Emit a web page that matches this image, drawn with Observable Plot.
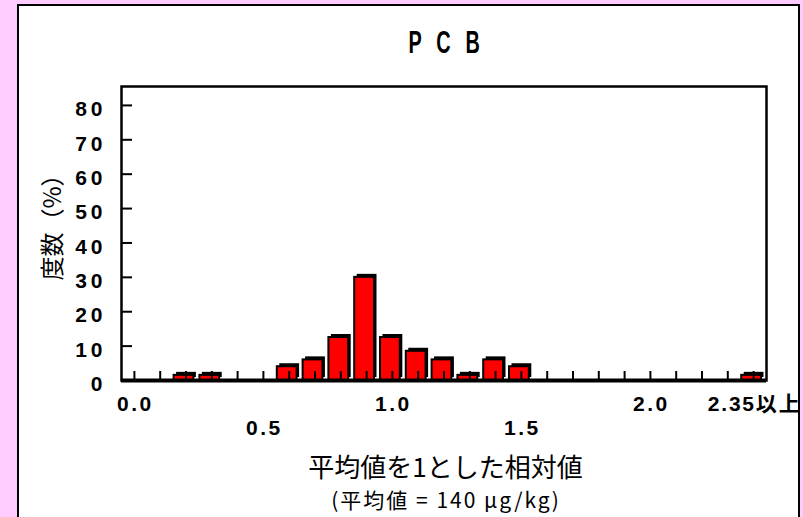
<!DOCTYPE html>
<html>
<head>
<meta charset="utf-8">
<script src="https://cdn.jsdelivr.net/npm/d3@7"></script>
<script src="https://cdn.jsdelivr.net/npm/@observablehq/plot@0.6"></script>
<style>
  html, body { margin: 0; padding: 0; }
  body { width: 803px; height: 517px; background: #ffccff; overflow: hidden; position: relative; }
  #panel { position: absolute; left: 17px; top: 4px; width: 779px; height: 520px;
           border: 2px solid #000; border-bottom: none; background: #fff; overflow: hidden; }
  #panel svg { position: absolute; left: 0; top: 0; }
</style>
</head>
<body>
<div id="panel"></div>
<script>
// ---- data ----
const bins = [0.0, 0.1, 0.2, 0.3, 0.4, 0.5, 0.6, 0.7, 0.8, 0.9, 1.0, 1.1, 1.2,
              1.3, 1.4, 1.5, 1.6, 1.7, 1.8, 1.9, 2.0, 2.1, 2.2, 2.3, 2.4];
const freq = [0, 0, 1.5, 1.5, 0, 0, 4, 6, 12.5, 30, 12.5, 8.5, 6,
              1.5, 6, 4, 0, 0, 0, 0, 0, 0, 0, 0, 1.5];
const yTicks = [0, 10, 20, 30, 40, 50, 60, 70, 80];
const xRow1Vals = [0.0, 1.0, 2.0, 2.4];
const xRow1Text = ["0.0", "1.0", "2.0", "2.35以上"];
const xRow2Vals = [0.5, 1.5];
const xRow2Text = ["0.5", "1.5"];
const titleText = "P C B";
const xTitle = "平均値を1とした相対値";
const xSubtitle = "(平均値 = 140 μg/kg)";
const yTitle = "度数（%）";

const bars = bins.map((b, i) => ({b, v: freq[i]})).filter(d => d.v > 0);
const row1 = xRow1Vals.map((v, i) => ({v, t: xRow1Text[i]}));
const row2 = xRow2Vals.map((v, i) => ({v, t: xRow2Text[i]}));

const half = 0.05;
const xMin = bins[0] - half, xMax = bins[bins.length - 1] + half;
const numFont = "'Liberation Sans', Arial, 'Noto Sans CJK JP', sans-serif";
const cjkFont = "'Noto Sans CJK JP', 'Noto Sans', sans-serif";

const W = 779, H = 511, mL = 102, mR = 32, mT = 80, mB = 137;
const pxPerX = (W - mL - mR) / (xMax - xMin);
const yMaxDom = 85.5;
const pxPerY = (H - mT - mB) / yMaxDom;
const C = {textAnchor: "middle", lineAnchor: "middle", fill: "#000"};

const chart = Plot.plot({
  width: W, height: H,
  marginLeft: mL, marginRight: mR, marginTop: mT, marginBottom: mB,
  style: {background: "transparent", overflow: "visible"},
  x: {domain: [xMin, xMax], axis: null},
  y: {domain: [0, yMaxDom], axis: null},
  marks: [
    Plot.frame({stroke: "#000", strokeWidth: 2.5}),
    // shadow
    Plot.rect(bars, {x1: d => d.b - half, x2: d => d.b + half, y1: 0, y2: "v",
      insetLeft: 1, insetRight: 5, fill: "#000", dx: 2.5, dy: -3}),
    Plot.rect(bars, {x1: d => d.b - half, x2: d => d.b + half, y1: 0, y2: "v",
      insetLeft: 1, insetRight: 5, fill: "#ff0000", stroke: "#000", strokeWidth: 2}),
    Plot.ruleY([0], {stroke: "#000", strokeWidth: 4}),
    // x ticks (inward)
    Plot.ruleX(bins, {x: d => d, y1: 0, y2: 9 / pxPerY, stroke: "#000", strokeWidth: 2}),
    // y ticks (inward)
    Plot.ruleY(yTicks.slice(1), {y: d => d, x1: xMin, x2: xMin + 11 / pxPerX, stroke: "#000", strokeWidth: 2}),
    // y tick labels
    Plot.text(yTicks, {...C, y: d => d, text: d => String(d), frameAnchor: "left", textAnchor: "end",
      dx: -15, dy: 4, fontSize: 21, fontWeight: "bold", fontFamily: numFont}),
    // x tick labels, staggered
    Plot.text(row1, {...C, x: "v", text: "t", frameAnchor: "bottom", dx: 1, dy: 23.5, fontSize: 21,
      fontWeight: "bold", fontFamily: numFont}),
    Plot.text(row2, {...C, x: "v", text: "t", frameAnchor: "bottom", dx: 1, dy: 47.5, fontSize: 21,
      fontWeight: "bold", fontFamily: numFont}),
    // title
    Plot.text([titleText], {...C, text: d => d, frameAnchor: "top", dx: 2.5, dy: -44, fontSize: 32,
      fontWeight: "bold", fontFamily: "'Liberation Sans', Arial, sans-serif"}),
    // x title + subtitle
    Plot.text([xTitle], {...C, text: d => d, frameAnchor: "bottom", dx: 1.5, dy: 88, fontSize: 26,
      fontFamily: cjkFont}),
    Plot.text([xSubtitle], {...C, text: d => d, frameAnchor: "bottom", dx: 2, dy: 121, fontSize: 21,
      fontFamily: cjkFont}),
    // y title
    Plot.text([yTitle], {...C, text: d => d, frameAnchor: "left", rotate: -90, dx: -68, dy: -12, fontSize: 24,
      fontFamily: cjkFont})
  ]
});
document.getElementById("panel").appendChild(chart);
const yLabelSet = new Set(yTicks.map(String));
const xLabelSet = new Set([...xRow1Text, ...xRow2Text]);
chart.querySelectorAll("text").forEach(el => {
  const s = el.textContent;
  if (yLabelSet.has(s)) el.style.letterSpacing = "4px";
  else if (s === xRow1Text[xRow1Text.length - 1]) el.style.letterSpacing = "1.8px";
  else if (xLabelSet.has(s)) el.style.letterSpacing = "2.5px";
  else if (s === xSubtitle) el.style.letterSpacing = "2px";
  else if (s === titleText) {
    el.style.letterSpacing = "7.5px";
    const bb = el.getBBox();
    const cx = bb.x + bb.width / 2, cy = bb.y + bb.height / 2;
    const t = el.getAttribute("transform") || "";
    el.setAttribute("transform",
      `${t} translate(${cx},${cy}) scale(0.62,1) translate(${-cx},${-cy})`);
  }
});
</script>
</body>
</html>
